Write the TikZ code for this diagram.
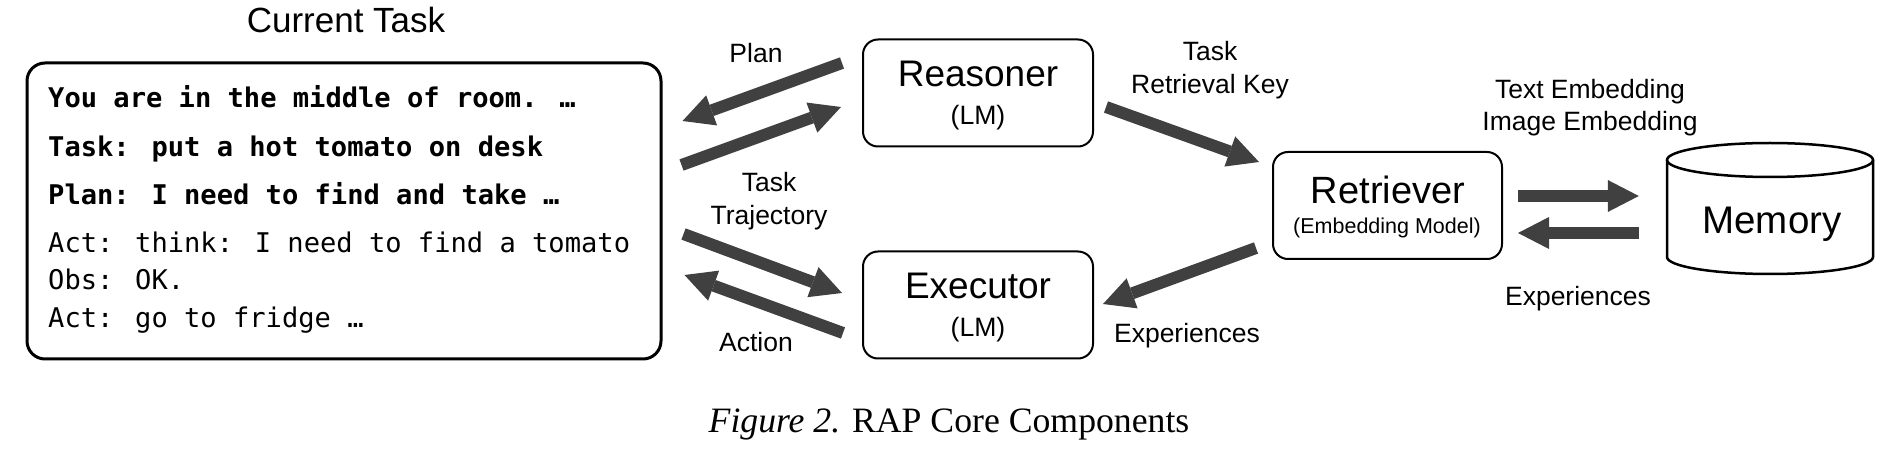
\documentclass[tikz,border=0pt]{standalone}
\usepackage{fontspec}
\setmainfont{Liberation Sans}
\newfontfamily\monof{DejaVu Sans Mono}
\newfontfamily\capf{Liberation Serif}
\usetikzlibrary{arrows.meta,calc}
\definecolor{arrowgray}{HTML}{404040}
\tikzset{
  lbl/.style={inner sep=0pt, anchor=base, font=\fontsize{26.5}{30}\selectfont},
  mono/.style={inner sep=0pt, anchor=base west, font=\monof\fontsize{27.1}{30}\selectfont},
  monob/.style={mono, font=\monof\bfseries\fontsize{27.1}{30}\selectfont},
  comp/.style={draw, line width=2pt, rounded corners=15pt, inner sep=0pt},
  bigarrow/.style={draw=arrowgray, line width=12pt,
    -{Triangle[width=32pt,length=31pt,line width=0pt]}},
}
\begin{document}
\begin{tikzpicture}[x=1pt,y=1pt]
\useasboundingbox (0,0) rectangle (1896,-454);
% current task box
\node[draw, line width=3pt, rounded corners=18pt, minimum width=634pt, minimum height=296pt, inner sep=0pt] (task) at (344,-211) {};
\node[inner sep=0pt, anchor=base, font=\fontsize{35}{38}\selectfont] (tasktitle) at (346,-33) {Current Task};
\node[monob] (l1) at (48,-108) {You are in the middle of room. …};
\node[monob] (l2) at (48,-157) {Task: put a hot tomato on desk};
\node[monob] (l3) at (48,-205) {Plan: I need to find and take …};
\node[mono] (l4) at (48,-253) {Act: think: I need to find a tomato};
\node[mono] (l5) at (48,-290) {Obs: OK.};
\node[mono] (l6) at (48,-327) {Act: go to fridge …};
% components
\node[comp, minimum width=230pt, minimum height=107pt] (reasoner) at (978,-93) {};
\node[inner sep=0pt, anchor=base, font=\fontsize{37}{40}\selectfont] (reasonerT) at (978,-87) {Reasoner};
\node[inner sep=0pt, anchor=base, font=\fontsize{26.6}{30}\selectfont] (reasonerS) at (978,-124.5) {(LM)};
\node[comp, minimum width=230pt, minimum height=107pt] (executor) at (978,-305) {};
\node[inner sep=0pt, anchor=base, font=\fontsize{37}{40}\selectfont] (executorT) at (978,-299) {Executor};
\node[inner sep=0pt, anchor=base, font=\fontsize{26.6}{30}\selectfont] (executorS) at (978,-336.5) {(LM)};
\node[comp, minimum width=229pt, minimum height=107pt] (retriever) at (1387.5,-205.5) {};
\node[inner sep=0pt, anchor=base, font=\fontsize{38}{40}\selectfont] (retrieverT) at (1388,-204) {Retriever};
\node[inner sep=0pt, anchor=base, font=\fontsize{21.5}{24}\selectfont] (retrieverS) at (1387,-233.5) {(Embedding Model)};
% memory cylinder
\node[inner sep=0pt, minimum width=206pt, minimum height=131pt] (memory) at (1770,-208.5) {};
\draw[line width=2.5pt, fill=white]
  (1667,-160) -- (1667,-257)
  arc[start angle=180, end angle=360, x radius=103pt, y radius=17pt]
  -- (1873,-160);
\draw[line width=2.5pt] (1770,-160) ellipse[x radius=103pt, y radius=17pt];
\node[inner sep=0pt, anchor=base, font=\fontsize{38.5}{40}\selectfont] (memoryT) at (1772,-234) {Memory};
% labels
\node[lbl] (plan) at (756,-63) {Plan};
\node[lbl] (traj1) at (769,-192) {Task};
\node[lbl] (traj2) at (769,-225) {Trajectory};
\node[lbl] (action) at (756,-352) {Action};
\node[lbl] (key1) at (1210,-61) {Task};
\node[lbl] (key2) at (1210,-94) {Retrieval Key};
\node[lbl] (emb1) at (1590,-99) {Text Embedding};
\node[lbl] (emb2) at (1590,-131) {Image Embedding};
\node[lbl] (exp1) at (1187,-342) {Experiences};
\node[lbl] (exp2) at (1578,-306) {Experiences};
% arrows
\coordinate (planS) at ($(reasoner.west)+(-20,30)$);
\coordinate (planE) at ($(task.east)+(20,90)$);
\coordinate (tkS) at ($(task.east)+(19,46)$);
\coordinate (tkE) at ($(reasoner.west)+(-21,-14)$);
\coordinate (trS) at ($(task.east)+(21,-23)$);
\coordinate (trE) at ($(executor.west)+(-20,12)$);
\coordinate (acS) at ($(executor.west)+(-19,-28)$);
\coordinate (acE) at ($(task.east)+(22,-64)$);
\coordinate (rkS) at ($(reasoner.east)+(12,-14)$);
\coordinate (rkE) at ($(retriever.west)+(-13,43.5)$);
\coordinate (exS) at ($(retriever.west)+(-16,-42.5)$);
\coordinate (exE) at ($(executor.east)+(9,1)$);
\coordinate (rmS) at ($(retriever.east)+(15,9.5)$);
\coordinate (rmE) at ($(memory.west)+(-28,12.5)$);
\coordinate (mrS) at ($(memory.west)+(-28,-24.5)$);
\coordinate (mrE) at ($(retriever.east)+(15,-27.5)$);
\draw[bigarrow] (planS) -- (planE);
\draw[bigarrow] (tkS) -- (tkE);
\draw[bigarrow] (trS) -- (trE);
\draw[bigarrow] (acS) -- (acE);
\draw[bigarrow] (rkS) -- (rkE);
\draw[bigarrow] (exS) -- (exE);
\draw[bigarrow] (rmS) -- (rmE);
\draw[bigarrow] (mrS) -- (mrE);
% caption
\node[inner sep=0pt, anchor=base, font=\capf\fontsize{35.7}{38}\selectfont] (caption) at (949,-432) {\textit{Figure 2.} RAP Core Components};
\end{tikzpicture}
\end{document}
